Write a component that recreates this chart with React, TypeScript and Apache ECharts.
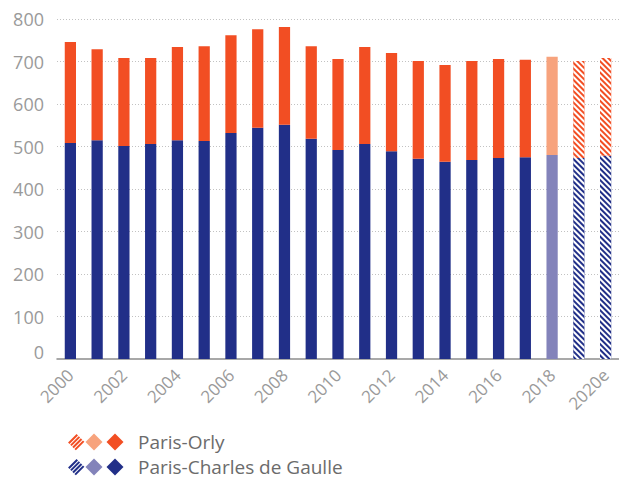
import React, { useEffect, useRef } from "react";
import * as echarts from "echarts";

const years = [
  "2000", "2001", "2002", "2003", "2004", "2005", "2006", "2007", "2008", "2009",
  "2010", "2011", "2012", "2013", "2014", "2015", "2016", "2017", "2018", "2019", "2020e",
];
const cdgValues = [508, 515, 501, 506, 515, 513, 532, 544, 551, 518, 492, 506, 489, 471, 464, 468, 473, 475, 480, 473, 478];
const orlyValues = [238, 214, 207, 202, 219, 223, 230, 232, 230, 218, 214, 228, 231, 230, 228, 233, 233, 229, 231, 228, 230];
// "actual" | "latest" | "forecast"
const status = [
  "actual", "actual", "actual", "actual", "actual", "actual", "actual", "actual", "actual", "actual",
  "actual", "actual", "actual", "actual", "actual", "actual", "actual", "actual", "latest", "forecast", "forecast",
];
const yTicks = { min: 0, max: 800, interval: 100 };
const legendNames = ["Paris-Orly", "Paris-Charles de Gaulle"];

const ORLY = { dark: "#F24E23", light: "#F7A37D" };
const CDG = { dark: "#212F88", light: "#8383BA" };
const FONT = "'Open Sans', Lato, sans-serif";

const stripeDecal = {
  symbol: "rect",
  symbolSize: 1,
  dashArrayX: [1, 0],
  dashArrayY: [2, 2],
  rotation: Math.PI / 4,
  color: "#ffffff",
};

function buildData(values: number[], pal: { dark: string; light: string }) {
  return values.map((v, i) => {
    const s = status[i];
    if (s === "latest") return { value: v, itemStyle: { color: pal.light } };
    if (s === "forecast")
      return { value: v, itemStyle: { color: pal.dark, decal: stripeDecal } };
    return { value: v, itemStyle: { color: pal.dark } };
  });
}

function legendRow(cy: number, pal: { dark: string; light: string }, label: string) {
  const h = 8.5;
  const diamond = (cx: number, color: string) => ({
    type: "polygon",
    shape: { points: [[cx - h, cy], [cx, cy - h], [cx + h, cy], [cx, cy + h]] },
    style: { fill: color },
  });
  const hx = 76;
  const stripes = [0.15, 0.4, 0.65, 0.9].map((b) => ({
    type: "line",
    shape: {
      x1: hx - h + h * b,
      y1: cy + h * b,
      x2: hx + h * b,
      y2: cy - h + h * b,
    },
    style: { stroke: pal.dark, lineWidth: 2 },
  }));
  return [
    ...stripes,
    diamond(94, pal.light),
    diamond(115, pal.dark),
    {
      type: "text",
      x: 138,
      y: cy,
      style: {
        text: label,
        fill: "#6b6b6b",
        fontSize: 19,
        fontFamily: FONT,
        lineHeight: 15,
        verticalAlign: "middle",
      },
    },
  ];
}

export default function App() {
  const ref = useRef<HTMLDivElement>(null);
  useEffect(() => {
    if (!ref.current) return;
    const chart = echarts.init(ref.current, null, { renderer: "svg" });
    chart.setOption({
      animation: false,
      backgroundColor: "#ffffff",
      grid: { left: 57, right: -3, top: 19, bottom: 120, containLabel: false },
      xAxis: {
        type: "category",
        data: years,
        offset: 8,
        axisTick: { show: false },
        axisLine: { lineStyle: { color: "#8c8c8c", width: 1.5 } },
        axisLabel: {
          interval: 1,
          rotate: 45,
          margin: 5,
          color: "#9a9a9a",
          fontSize: 17,
          fontFamily: FONT,
        },
      },
      yAxis: {
        type: "value",
        min: yTicks.min,
        max: yTicks.max,
        interval: yTicks.interval,
        axisLine: { show: false },
        axisTick: { show: false },
        splitLine: {
          show: true,
          showMinLine: false,
          lineStyle: { color: "#c2c2c2", type: [1, 2], width: 1.2 },
        },
        axisLabel: {
          margin: 13,
          color: "#9a9a9a",
          fontSize: 18,
          fontFamily: FONT,
          formatter: (v: number) => (v === 0 ? "{z|0}" : String(v)),
          rich: {
            z: { padding: [0, 0, 14, 0], color: "#9a9a9a", fontSize: 18, fontFamily: FONT },
          },
        },
      },
      series: [
        {
          name: legendNames[1],
          type: "bar",
          stack: "pax",
          barWidth: "42%",
          data: buildData(cdgValues, CDG),
        },
        {
          name: legendNames[0],
          type: "bar",
          stack: "pax",
          barWidth: "42%",
          data: buildData(orlyValues, ORLY),
        },
      ],
      graphic: [...legendRow(442, ORLY, legendNames[0]), ...legendRow(467, CDG, legendNames[1])],
    });
    return () => chart.dispose();
  }, []);
  return (
    <div
      ref={ref}
      style={{ position: "absolute", left: 0, top: 0, width: 619, height: 479 }}
    />
  );
}
